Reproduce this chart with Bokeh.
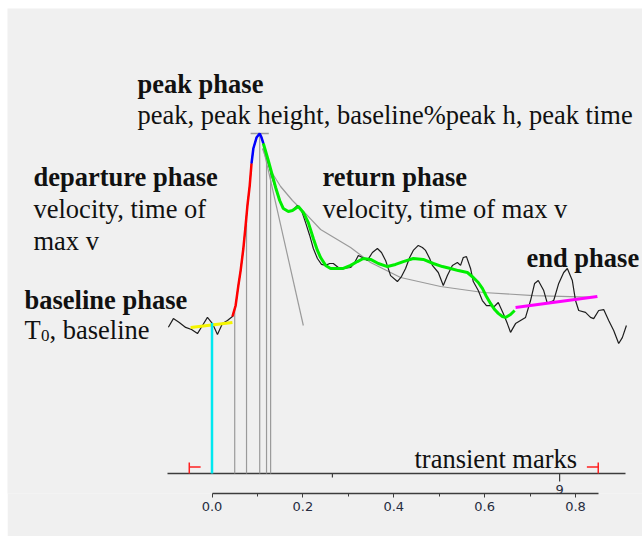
import numpy as np
from bokeh.plotting import figure
from bokeh.models import (Label, LinearAxis, FixedTicker, PrintfTickFormatter,
                          Range1d, Spacer)
from bokeh.layouts import column, row
from bokeh.embed import file_html
from bokeh.resources import INLINE

# ---------------- data ----------------
time = [-0.096, -0.085, -0.072, -0.058, -0.045, -0.032, -0.021, -0.010, 0.001, 0.012,
        0.023, 0.034, 0.045, 0.052, 0.058, 0.063, 0.069, 0.074, 0.078, 0.083,
        0.087, 0.091, 0.098, 0.105, 0.109, 0.113, 0.120, 0.127, 0.133, 0.140,
        0.149, 0.157, 0.166, 0.177, 0.188, 0.197, 0.206, 0.215, 0.223, 0.232,
        0.241, 0.250, 0.259, 0.267, 0.278, 0.289, 0.305, 0.314, 0.322, 0.331,
        0.342, 0.353, 0.364, 0.373, 0.382, 0.393, 0.408, 0.417, 0.426, 0.435,
        0.443, 0.454, 0.463, 0.470, 0.479, 0.485, 0.498, 0.509, 0.518, 0.529,
        0.540, 0.547, 0.553, 0.560, 0.569, 0.575, 0.586, 0.595, 0.604, 0.613,
        0.619, 0.630, 0.641, 0.650, 0.657, 0.668, 0.679, 0.690, 0.701, 0.710,
        0.718, 0.730, 0.738, 0.752, 0.763, 0.774, 0.782, 0.793, 0.800, 0.807,
        0.822, 0.833, 0.840, 0.851, 0.862, 0.873, 0.884, 0.895, 0.903, 0.912]
signal = [-0.009, 0.036, 0.016, -0.010, -0.021, -0.042, 0.000, 0.042, 0.010, -0.047,
          0.010, 0.026, 0.047, 0.104, 0.208, 0.286, 0.401, 0.521, 0.625, 0.729,
          0.844, 0.922, 0.979, 1.000, 0.979, 0.948, 0.885, 0.818, 0.766, 0.714,
          0.651, 0.609, 0.594, 0.599, 0.625, 0.599, 0.536, 0.469, 0.401, 0.349,
          0.318, 0.313, 0.323, 0.323, 0.302, 0.297, 0.302, 0.328, 0.365, 0.354,
          0.339, 0.380, 0.401, 0.380, 0.339, 0.260, 0.229, 0.255, 0.297, 0.354,
          0.391, 0.417, 0.406, 0.391, 0.349, 0.313, 0.276, 0.208, 0.260, 0.313,
          0.328, 0.313, 0.354, 0.359, 0.297, 0.229, 0.182, 0.130, 0.104, 0.104,
          0.094, 0.120, 0.063, 0.010, -0.036, 0.010, 0.026, 0.042, 0.130, 0.219,
          0.234, 0.182, 0.115, 0.130, 0.219, 0.276, 0.297, 0.234, 0.130, 0.078,
          0.068, 0.042, 0.036, 0.078, 0.083, 0.026, -0.026, -0.094, -0.063, 0.000]

smooth_t = [0.113, 0.124, 0.140, 0.149, 0.157, 0.168, 0.177, 0.190, 0.201, 0.212,
            0.223, 0.232, 0.239, 0.250, 0.261, 0.274, 0.289, 0.305, 0.320, 0.333,
            0.349, 0.366, 0.386, 0.404, 0.421, 0.443, 0.465, 0.487, 0.507, 0.525,
            0.542, 0.562, 0.575, 0.586, 0.595, 0.604, 0.613, 0.622, 0.630, 0.639,
            0.646, 0.657, 0.666]
smooth_y = [0.948, 0.859, 0.719, 0.651, 0.609, 0.594, 0.599, 0.620, 0.589, 0.536,
            0.453, 0.391, 0.354, 0.313, 0.297, 0.297, 0.297, 0.313, 0.333, 0.349,
            0.344, 0.323, 0.307, 0.318, 0.333, 0.349, 0.344, 0.323, 0.307, 0.297,
            0.286, 0.276, 0.250, 0.224, 0.193, 0.151, 0.115, 0.083, 0.063, 0.047,
            0.042, 0.057, 0.078]

fit_t = [0.111, 0.129, 0.151, 0.177, 0.206, 0.239, 0.272, 0.305, 0.349, 0.415,
         0.503, 0.597, 0.708, 0.848]
fit_y = [0.922, 0.807, 0.724, 0.651, 0.583, 0.500, 0.453, 0.406, 0.328, 0.250,
         0.203, 0.172, 0.156, 0.146]

baseline_t = [-0.047, 0.045]
baseline_y = [-0.010, 0.016]
end_t = [0.668, 0.848]
end_y = [0.094, 0.151]
tangent_t = [0.113, 0.201]
tangent_y = [0.922, 0.0]

t0 = 0.0
mark_times = [0.050, 0.076, 0.105, 0.120, 0.129]
peak_t = 0.105
peak_y = 1.0
departure_window = (0.045, 0.087)
peak_window = (0.087, 0.113)
transient_start = -0.05
transient_end = 0.85

x_ticks = [0.0, 0.2, 0.4, 0.6, 0.8]
x_minor_ticks = [0.1, 0.3, 0.5, 0.7]
frame_ticks = [0.265, 0.765]
frame_tick_labels = ["", "9"]


# ---------------- layout helpers (page pixels -> data) ----------------
def X(px):
    return (px - 211.5) / 454.4


def Y(py):
    return (325.0 - py) / 192.0


SERIF = "Liberation Serif"
AX = "#3c3c3c"
TICKC = "#262c40"

p = figure(width=635, height=528,
           x_range=Range1d(X(7), X(642)), y_range=Range1d(Y(493), Y(8)),
           output_backend="svg", toolbar_location=None,
           x_axis_location=None, y_axis_location=None,
           min_border_left=0, min_border_right=0, min_border_top=0,
           min_border_bottom=43,
           background_fill_color="#f0f0f0", border_fill_color="#f0f0f0",
           outline_line_color=None)
p.grid.visible = False

axis = LinearAxis(bounds=(0.0, 0.85),
                  ticker=FixedTicker(ticks=x_ticks, minor_ticks=x_minor_ticks),
                  formatter=PrintfTickFormatter(format="%.1f"))
axis.axis_line_color = AX
axis.axis_line_width = 1.5
axis.major_tick_line_color = AX
axis.minor_tick_line_color = AX
axis.major_tick_out = 4
axis.major_tick_in = 0
axis.minor_tick_out = 3
axis.minor_tick_in = 0
axis.major_label_text_font = "DejaVu Sans"
axis.major_label_text_font_size = "13px"
axis.major_label_text_color = TICKC
axis.major_label_standoff = 4
p.add_layout(axis, "below")

time_a = np.array(time)
sig_a = np.array(signal)
axis_y = Y(473)

# upper (frame) axis drawn as glyphs
p.line([X(167), X(625)], [axis_y, axis_y], line_color=AX, line_width=1.5)
tick_len = [4 / 192.0, 8 / 192.0]
p.segment(x0=frame_ticks, y0=[axis_y] * 2, x1=frame_ticks,
          y1=[axis_y - tl for tl in tick_len], line_color=AX, line_width=1.2)
p.add_layout(Label(x=frame_ticks[1], y=Y(489), text=frame_tick_labels[1],
                   text_font="DejaVu Sans", text_font_size="13px",
                   text_color=TICKC, text_align="center",
                   text_baseline="middle"))

# gray construction lines
p.line(fit_t, fit_y, line_color="#9a9a9a", line_width=1.2)
p.line(tangent_t, tangent_y, line_color="#9a9a9a", line_width=1.2)
mark_tops = np.interp(mark_times, time_a, sig_a)
p.segment(x0=mark_times, y0=[axis_y] * len(mark_times), x1=mark_times, y1=mark_tops,
          line_color="#9a9a9a", line_width=1.2)
p.segment(x0=[peak_t - 0.02], y0=[peak_y], x1=[peak_t + 0.02], y1=[peak_y],
          line_color="#9a9a9a", line_width=1.5)

# raw trace
p.line(time, signal, line_color="#1e1e1e", line_width=1.2)

# phases
p.line(baseline_t, baseline_y, line_color="#f5f500", line_width=3)
m = (time_a >= departure_window[0]) & (time_a <= departure_window[1])
p.line(time_a[m], sig_a[m], line_color="#ff0000", line_width=2.5)
m = (time_a >= peak_window[0]) & (time_a <= peak_window[1])
p.line(time_a[m], sig_a[m], line_color="#0000ff", line_width=2.5)
p.line(smooth_t, smooth_y, line_color="#00ee00", line_width=3)
p.line(end_t, end_y, line_color="#ff00ff", line_width=3)

# T0 marker
p.segment(x0=[t0], y0=[axis_y], x1=[t0], y1=[float(np.interp(t0, time_a, sig_a))],
          line_color="#00e8f0", line_width=2.5)

# transient marks
tr_v = Y(462)
tr_h = Y(466.5)
p.segment(x0=[transient_start, transient_end], y0=[axis_y, axis_y],
          x1=[transient_start, transient_end], y1=[tr_v, tr_v],
          line_color="#ff2020", line_width=1.5)
p.segment(x0=[transient_start, transient_end - 0.025], y0=[tr_h, tr_h],
          x1=[transient_start + 0.025, transient_end], y1=[tr_h, tr_h],
          line_color="#ff2020", line_width=1.5)


def lab(px, py, text, bold=False, size="26.5px"):
    p.add_layout(Label(x=X(px), y=Y(py), text=text, text_font=SERIF,
                       text_font_size=size,
                       text_font_style="bold" if bold else "normal",
                       text_color="#111111", text_align="left",
                       text_baseline="alphabetic"))


lab(137, 83, "peak phase", bold=True)
lab(137, 114, "peak, peak height, baseline%peak h, peak time")
lab(33, 176, "departure phase", bold=True)
lab(33, 208, "velocity, time of")
lab(33, 240, "max v")
lab(322, 176, "return phase", bold=True)
lab(322, 208, "velocity, time of max v")
lab(526, 257, "end phase", bold=True)
lab(24, 299, "baseline phase", bold=True)
lab(24, 329, "T")
lab(40.5, 335, "0", size="17px")
lab(49, 329, ", baseline")
lab(414, 458, "transient marks")

layout = column(Spacer(width=642, height=8),
                row(Spacer(width=7, height=528), p))

open("out.html", "w").write(file_html(layout, INLINE))
